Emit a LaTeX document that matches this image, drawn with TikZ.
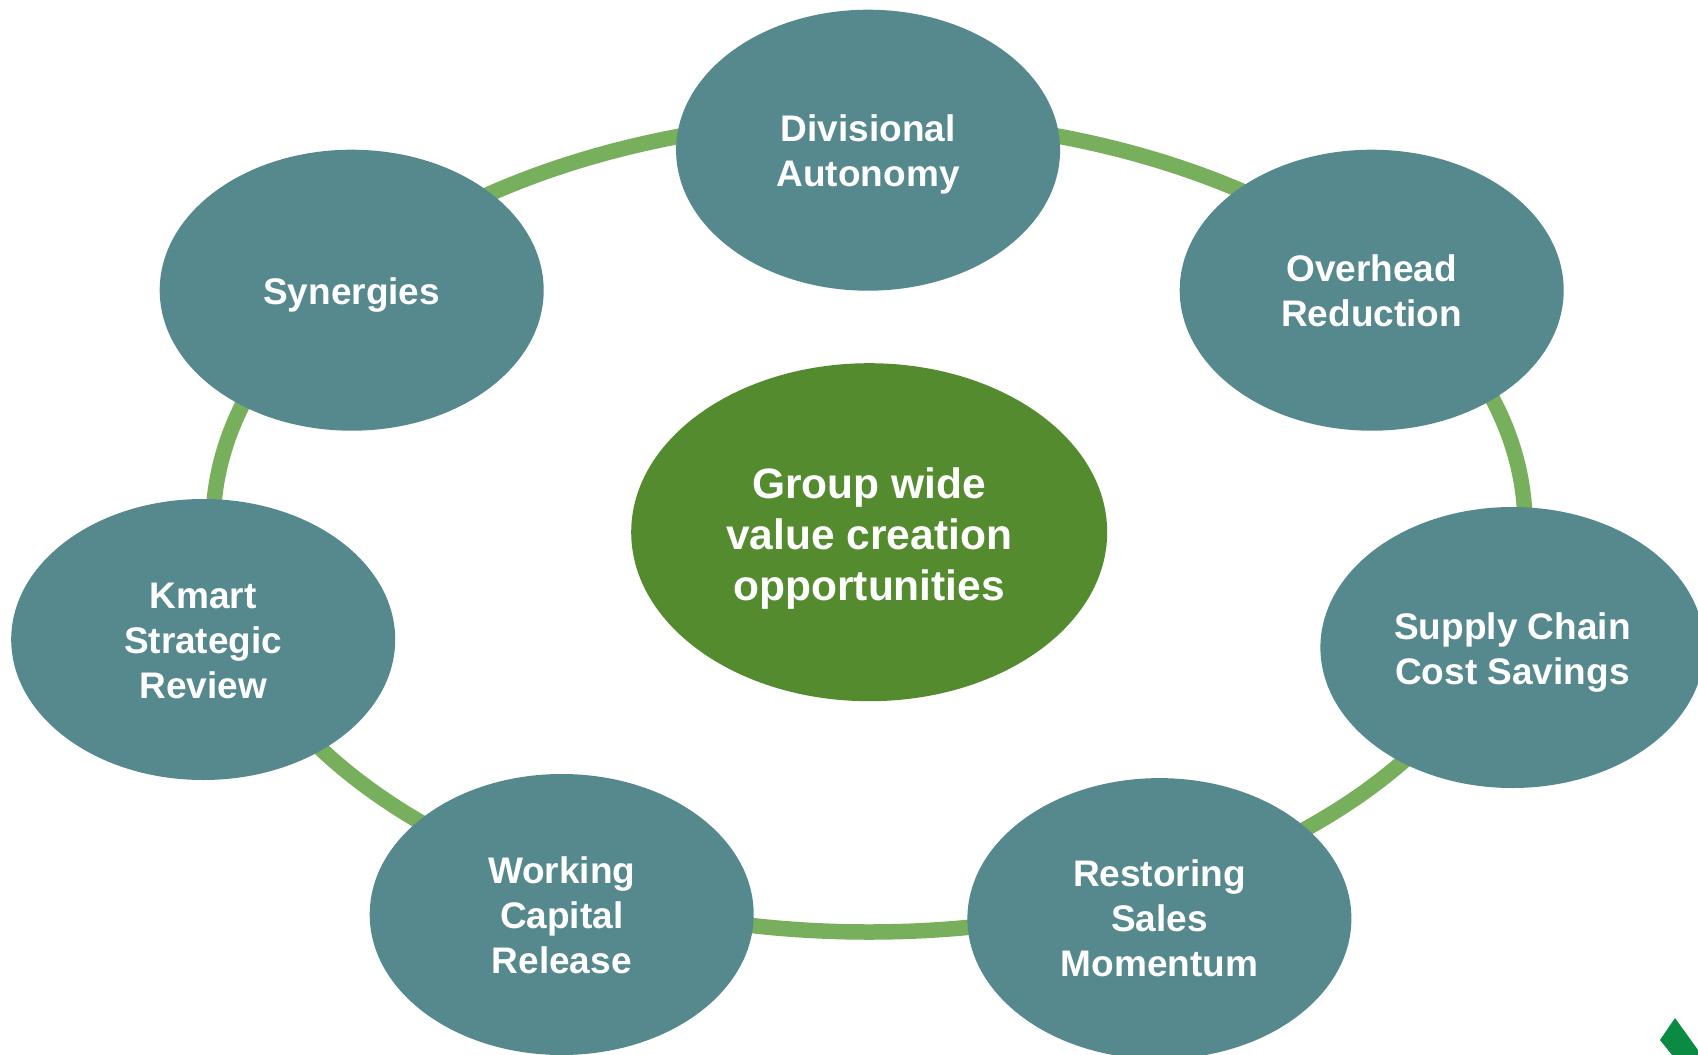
\documentclass[tikz,border=0pt]{standalone}
\usepackage{fontspec}
\setmainfont{Liberation Sans}
\usetikzlibrary{shapes.geometric}
\definecolor{tealc}{HTML}{55898E}
\definecolor{centerc}{HTML}{548B2E}
\definecolor{ringc}{HTML}{78AF5C}
\definecolor{logoc}{HTML}{0B8A43}
% first-line strut: moves a node's text down by #1 without moving its ellipse
\newcommand{\dnp}[1]{\rule{0pt}{\dimexpr 27pt+2\dimexpr #1pt\relax\relax}}
\newcommand{\dnh}[1]{\rule{0pt}{\dimexpr 31pt+2\dimexpr #1pt\relax\relax}}
\tikzset{
  x=1pt,y=-1pt,
  ringshape/.style={ellipse,draw=ringc,line width=15.5pt,inner sep=0pt,outer sep=0pt,minimum width=1312pt,minimum height=813pt},
  petal/.style={ellipse,fill=tealc,inner sep=0pt,outer sep=0pt,minimum width=384pt,minimum height=281pt,text=white,align=center,font=\fontsize{37}{45}\selectfont\bfseries},
  hub/.style={ellipse,fill=centerc,inner sep=0pt,outer sep=0pt,minimum width=476pt,minimum height=338pt,text=white,align=center,font=\fontsize{42.5}{51}\selectfont\bfseries},
}
\begin{document}
\begin{tikzpicture}
\useasboundingbox (0,0) rectangle (1698,1055);
\node[ringshape] (ring) at (869,525.5) {};
\node[hub] (hub) at (869.2,532.2) {\dnh{5.8}Group wide\\value creation\\opportunities};
\node[petal] (div) at (868.1,150.2) {\dnp{4.4}Divisional\\Autonomy};
\node[petal] (over) at (1371.7,290.2) {\dnp{0.8}Overhead\\Reduction};
\node[petal] (sup) at (1512.4,647.5) {\dnp{5}Supply Chain\\Cost Savings};
\node[petal] (rest) at (1159.4,918.6) {Restoring\\Sales\\Momentum};
\node[petal] (work) at (561.7,914.5) {\dnp{0.6}Working\\Capital\\Release};
\node[petal] (kmart) at (203.2,639.5) {\dnp{0.6}Kmart\\Strategic\\Review};
\node[petal] (syn) at (351.7,290.2) {\dnp{4.6}Synergies};
\fill[logoc] (1675,1018) -- (1660,1040) -- (1672,1055) -- (1698,1055) -- (1698,1050) -- cycle;
\end{tikzpicture}
\end{document}
